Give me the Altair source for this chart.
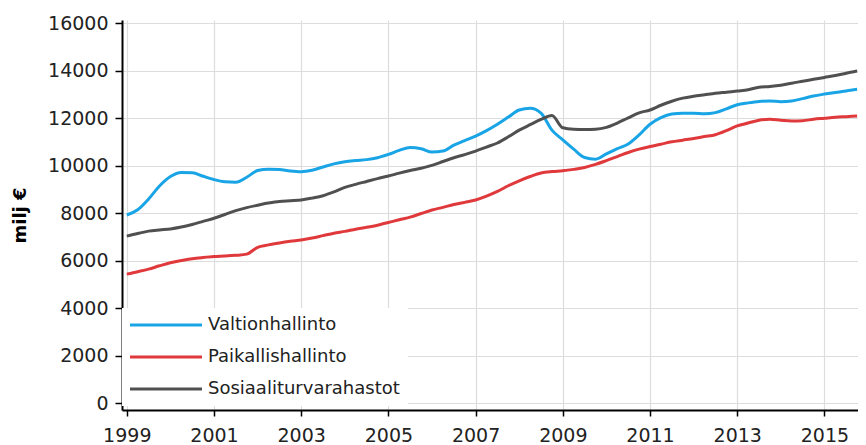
import altair as alt
import pandas as pd

series_names = ["Valtionhallinto", "Paikallishallinto", "Sosiaaliturvarahastot"]
series_colors = ["#19a4e6", "#e0393c", "#505050"]

# quarterly, 1999Q1 .. 2015Q4
quarters = [1999 + i * 0.25 for i in range(68)]

valtionhallinto = [
    7930, 8150, 8600, 9150, 9550, 9720, 9710, 9560,
    9420, 9330, 9310, 9520, 9800, 9860, 9840, 9780,
    9750, 9810, 9950, 10080, 10170, 10220, 10260, 10340,
    10480, 10650, 10770, 10720, 10580, 10620, 10870, 11060,
    11250, 11480, 11750, 12050, 12350, 12420, 12220, 11500,
    11090, 10700, 10350, 10280, 10500, 10720, 10920, 11300,
    11750, 12030, 12180, 12210, 12210, 12190, 12240, 12400,
    12570, 12650, 12710, 12730, 12700, 12730, 12830, 12940,
    13020, 13090, 13150, 13220,
]

paikallishallinto = [
    5440, 5540, 5650, 5790, 5920, 6010, 6090, 6140,
    6180, 6200, 6230, 6280, 6570, 6670, 6750, 6820,
    6880, 6960, 7060, 7160, 7240, 7330, 7410, 7500,
    7610, 7730, 7840, 7990, 8140, 8250, 8370, 8460,
    8560, 8720, 8920, 9160, 9370, 9550, 9700, 9760,
    9790, 9850, 9930, 10060, 10220, 10390, 10560, 10700,
    10810, 10910, 11010, 11080, 11150, 11230, 11310, 11480,
    11680, 11800, 11920, 11960, 11920, 11890, 11900, 11960,
    12000, 12040, 12070, 12100,
]

sosiaaliturvarahastot = [
    7040, 7150, 7250, 7300, 7340, 7420, 7530, 7660,
    7790, 7950, 8110, 8240, 8340, 8430, 8500, 8530,
    8560, 8640, 8740, 8900, 9090, 9220, 9340, 9460,
    9570, 9690, 9800, 9900, 10020, 10180, 10340, 10470,
    10620, 10790, 10960, 11220, 11500, 11730, 11950, 12120,
    11600, 11540, 11530, 11540, 11620, 11800, 12020, 12230,
    12350, 12550, 12720, 12850, 12930, 12990, 13050, 13100,
    13150, 13200, 13310, 13340, 13390, 13480, 13560, 13640,
    13720, 13800, 13900, 13990,
]

x_ticks = [1999, 2001, 2003, 2005, 2007, 2009, 2011, 2013, 2015]
y_ticks = [0, 2000, 4000, 6000, 8000, 10000, 12000, 14000, 16000]

rows = []
for name, vals in zip(series_names, [valtionhallinto, paikallishallinto, sosiaaliturvarahastot]):
    for t, v in zip(quarters, vals):
        rows.append({"t": t, "value": v, "series": name})
df = pd.DataFrame(rows)

FONT = "DejaVu Sans"

chart = alt.Chart(df).mark_line(strokeWidth=3, interpolate="monotone").encode(
    x=alt.X(
        "t:Q",
        scale=alt.Scale(domain=[1998.89, 2015.77], nice=False, zero=False),
        axis=alt.Axis(
            values=x_ticks, format="d", title=None,
            labelFont=FONT, labelFontSize=19, labelColor="#222222",
            labelPadding=10, tickSize=6, tickColor="#000000", tickWidth=1.5,
            domainColor="#000000", domainWidth=2,
            gridColor="#dddddd", gridWidth=1.2, labelFlush=False,
        ),
    ),
    y=alt.Y(
        "value:Q",
        scale=alt.Scale(domain=[-282, 16139], nice=False, zero=False),
        axis=alt.Axis(
            values=y_ticks, format="d", title="milj €",
            titleFont=FONT, titleFontSize=18, titleFontWeight="bold", titleColor="#000000",
            titlePadding=18,
            labelFont=FONT, labelFontSize=19, labelColor="#222222",
            labelPadding=7, tickSize=7, tickColor="#000000", tickWidth=1.5,
            domainColor="#000000", domainWidth=2,
            gridColor="#dddddd", gridWidth=1.2,
        ),
    ),
    color=alt.Color(
        "series:N",
        scale=alt.Scale(domain=series_names, range=series_colors),
        sort=series_names,
        legend=alt.Legend(
            title=None, orient="none", legendX=0, legendY=288,
            symbolType="M-7.2,0H7.2", symbolSize=100, symbolStrokeWidth=3,
            symbolOffset=27, labelOffset=33, labelLimit=0,
            labelFont=FONT, labelFontSize=18, labelColor="#222222",
            rowPadding=14, padding=8, fillColor="white",
        ),
    ),
).properties(
    width=736, height=390,
    autosize=alt.AutoSizeParams(type="none"),
    padding={"left": 114, "top": 12, "right": 0, "bottom": 35},
).configure_view(stroke=None)

chart.save("out.html", embed_options={"renderer": "svg", "actions": False})
